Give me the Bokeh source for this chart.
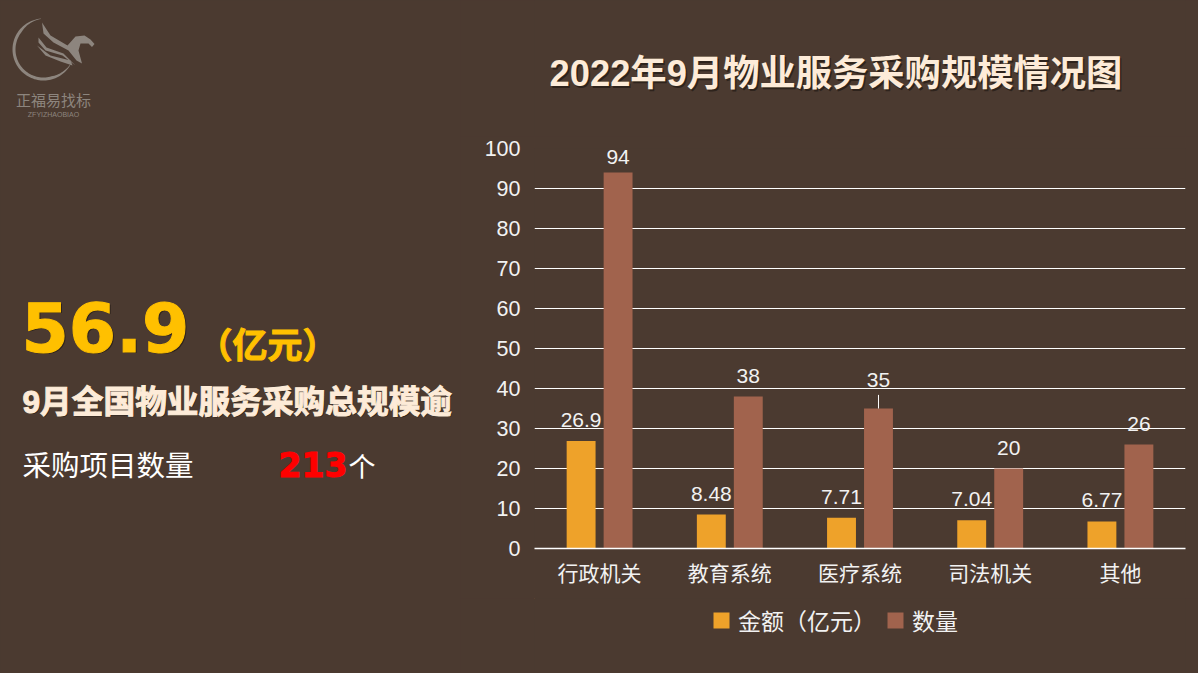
import numpy as np
from bokeh.plotting import figure
from bokeh.layouts import row, column
from bokeh.models import Legend, LegendItem, FactorRange, Range1d, ColumnDataSource, FixedTicker
from bokeh.transform import dodge
from bokeh.core.properties import value
from bokeh.embed import file_html
from bokeh.resources import INLINE

categories = ["行政机关", "教育系统", "医疗系统", "司法机关", "其他"]
amount = [26.9, 8.48, 7.71, 7.04, 6.77]
count = [94, 38, 35, 20, 26]
amount_labels = ["26.9", "8.48", "7.71", "7.04", "6.77"]
count_labels = ["94", "38", "35", "20", "26"]
series_names = ["金额（亿元）", "数量"]
y_ticks = [0, 10, 20, 30, 40, 50, 60, 70, 80, 90, 100]
chart_title = "2022年9月物业服务采购规模情况图"

BG = "#4b3a30"
ORANGE = "#eea22a"
BROWN = "#a1634d"
CREAM = "#fdebd8"
TXT = "#f2f2f2"
LOGO = "#8d857e"
SHADOW = "#2e231c"
SANS = "'Liberation Sans','Noto Sans CJK SC'"
CJK = "'Noto Sans CJK SC'"


def blank(w, h, x0, x1, y0):
    # a figure whose data coordinates are the page's pixels
    f = figure(width=w, height=h, output_backend="svg", toolbar_location=None,
               x_range=Range1d(x0, x1), y_range=Range1d(y0 + h, y0),
               x_axis_type=None, y_axis_type=None, min_border=0,
               background_fill_color=BG, border_fill_color=BG, outline_line_color=None)
    f.grid.visible = False
    return f


def put(f, text, x, y, size, color, font=CJK, style="normal", align="left", outline=None):
    f.text(x=[x], y=[y], text=[text], text_font=value(font), text_font_size=f"{size}px",
           text_font_style=style, text_color=color, text_align=align, text_baseline="middle",
           text_outline_color=outline)


# ---------- chart ----------
p = figure(width=738, height=462, output_backend="svg", toolbar_location=None,
           x_range=FactorRange(factors=categories, range_padding=0, factor_padding=0),
           y_range=Range1d(0, 100), min_border_left=74, min_border_right=13,
           min_border_top=12, min_border_bottom=50,
           background_fill_color=BG, border_fill_color=BG, outline_line_color=None)
p.xgrid.visible = False
p.ygrid.grid_line_color = "#ffffff"
p.ygrid.grid_line_width = 1.2
p.yaxis.ticker = FixedTicker(ticks=y_ticks)
p.yaxis.axis_line_color = None
p.yaxis.major_tick_line_color = None
p.yaxis.minor_tick_line_color = None
p.yaxis.major_label_standoff = 8
p.yaxis.major_label_text_font = SANS
p.yaxis.major_label_text_font_size = "21.5px"
p.yaxis.major_label_text_color = TXT
p.xaxis.axis_line_color = "#ffffff"
p.xaxis.axis_line_width = 1.3
p.xaxis.major_tick_line_color = None
p.xaxis.minor_tick_line_color = None
p.xaxis.major_label_standoff = 2
p.xaxis.major_label_text_font = CJK
p.xaxis.major_label_text_font_size = "21px"
p.xaxis.major_label_text_color = TXT

OFFSET = 0.142
BAR = 0.222
src = ColumnDataSource(dict(
    cat=categories, amount=amount, count=count,
    amount_text=amount_labels, count_text=count_labels,
    amount_off=[-21, -21, -21, -21, -21],
    count_off=[-16, -21, -29, -21, -21],
))
p.vbar(x=dodge("cat", -OFFSET, range=p.x_range), top="amount", width=BAR, source=src,
       fill_color=ORANGE, line_color=None)
p.vbar(x=dodge("cat", OFFSET, range=p.x_range), top="count", width=BAR, source=src,
       fill_color=BROWN, line_color=None)
p.text(x=dodge("cat", -OFFSET, range=p.x_range), y="amount", text="amount_text", source=src,
       y_offset="amount_off", text_align="center", text_baseline="middle",
       text_font=value(SANS), text_font_size="21px", text_color=TXT)
p.text(x=dodge("cat", OFFSET, range=p.x_range), y="count", text="count_text", source=src,
       y_offset="count_off", text_align="center", text_baseline="middle",
       text_font=value(SANS), text_font_size="21px", text_color=TXT)
# leader line of the label "35"
p.segment(x0=dodge("c", OFFSET, range=p.x_range), x1=dodge("c", OFFSET, range=p.x_range),
          y0="v", y1="w", source=ColumnDataSource(dict(c=[categories[2]], v=[count[2]], w=[count[2] + 3.4])),
          line_color="#ffffff", line_width=1)

# ---------- title strip (frame aligned with the chart's frame) ----------
top = blank(738, 136, 534, 1185, 0)
put(top, chart_title, 837, 75, 36.3, SHADOW, SANS, "bold", "center")
put(top, chart_title, 835.5, 73, 36.3, CREAM, SANS, "bold", "center")

# ---------- legend strip ----------
bottom = blank(738, 75, 534, 1185, 598)
s1 = bottom.vbar(x=[0], top=[0], width=0, fill_color=ORANGE, line_color=None)
s2 = bottom.vbar(x=[0], top=[0], width=0, fill_color=BROWN, line_color=None)
bottom.add_layout(Legend(items=[LegendItem(label=series_names[0], renderers=[s1]),
                                LegendItem(label=series_names[1], renderers=[s2])],
                         orientation="horizontal", background_fill_alpha=0, border_line_alpha=0,
                         label_text_font=CJK, label_text_font_size="23px", label_text_color=TXT,
                         glyph_width=20, glyph_height=20, label_standoff=7, spacing=9, padding=0, margin=0,
                         location=(177, 36)))

# ---------- left column ----------
left = blank(460, 673, 0, 460, 0)
put(left, "56.9", 22.5, 327.5, 68, SHADOW, "DejaVu Sans", "bold")
put(left, "56.9", 21, 326, 68, "#ffc000", "DejaVu Sans", "bold", outline="#ffc000")
put(left, "（亿元）", 197, 342, 35, "#ffc000", CJK, "bold", outline="#ffc000")
put(left, "9月全国物业服务采购总规模逾", 23, 402, 31.7, "#2e231c", SANS, "bold")
put(left, "9月全国物业服务采购总规模逾", 22, 401, 31.7, CREAM, SANS, "bold", outline=CREAM)
put(left, "采购项目数量", 22, 463, 28.5, "#ffffff", CJK)
put(left, "213", 278, 464, 33, "#ff0000", "DejaVu Sans", "bold", outline="#ff0000")
put(left, "个", 348, 465, 27, "#ffffff", CJK)

# logo
put(left, "正福易找标", 53, 99, 15, LOGO, CJK, "normal", "center")
put(left, "ZFYIZHAOBIAO", 53, 113.5, 7, LOGO, SANS, "normal", "center")
t = np.radians(np.linspace(-95, -335, 80))
cx, cy, r = 43, 49, 31
w = np.interp(np.linspace(0, 1, 80), [0, 0.2, 0.8, 1], [0.3, 3, 3, 0.2])
ring_x = np.r_[cx + r * np.cos(t), cx + (r - w[::-1]) * np.cos(t[::-1])]
ring_y = np.r_[cy + r * np.sin(t), cy + (r - w[::-1]) * np.sin(t[::-1])]
left.patch(ring_x, ring_y, fill_color=LOGO, line_color=None)
left.patch([41.5, 50, 67, 75, 84, 90, 94, 91.5, 88, 80, 78, 81.5, 76, 68, 53, 43],
           [22, 35, 45, 36, 35, 39, 43.5, 46.5, 43, 43, 50, 63, 60, 50, 42, 33],
           fill_color=LOGO, line_color=None)
left.patch([38, 46, 63, 75, 62, 45, 38], [37, 47, 53, 65, 55, 50, 42], fill_color=LOGO, line_color=None)
left.patch([36.5, 50, 70, 72, 60, 45], [45, 55, 60, 65, 61, 55], fill_color=LOGO, line_color=None)

page = row(left, column(top, p, bottom, spacing=0), spacing=0)
html = file_html(page, INLINE)
html = html.replace("</head>", f"<style>html,body{{background:{BG};overflow:hidden}}</style></head>", 1)
open("out.html", "w").write(html)
